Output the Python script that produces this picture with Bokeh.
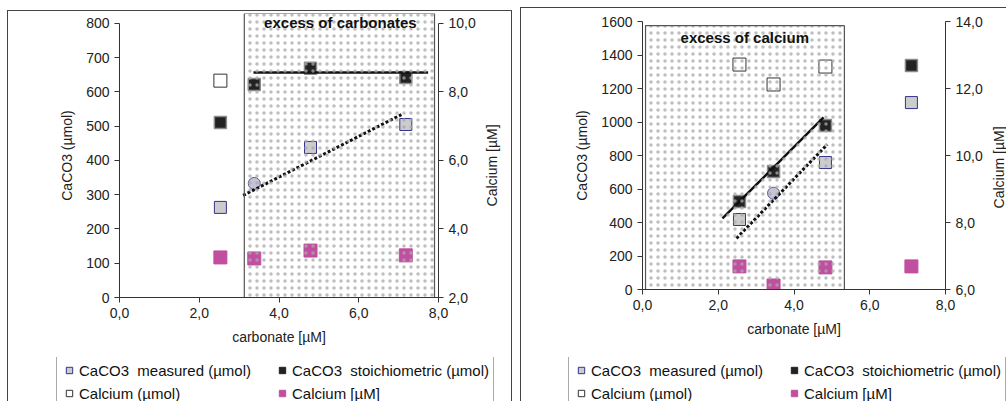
import math
from bokeh.plotting import figure
from bokeh.layouts import row, column
from bokeh.models import (Range1d, LinearAxis, FixedTicker, CustomJSTickFormatter,
                          Legend, LegendItem, Label, Spacer)
from bokeh.embed import file_html
from bokeh.resources import INLINE

FONT = "Liberation Sans"

# ---------------- data: left chart (excess of carbonates) ----------------
L_carb = [2.53, 3.38, 4.79, 7.18]
L_meas_x = [2.53, 4.79, 7.18]
L_meas = [263, 438, 505]
L_circ_x = [3.38]
L_circ = [333]
L_stoich = [511, 622, 669, 642]
L_ca_umol_x = [2.53]
L_ca_umol = [633]
L_ca_uM = [3.17, 3.14, 3.37, 3.23]
L_fit_solid_x = [3.36, 7.74]
L_fit_solid_y = [657, 657]
L_fit_dot_x = [3.1, 7.07]
L_fit_dot_y = [298, 534]
L_zone_x = [3.13, 7.9]
L_zone_label = "excess of carbonates"

# ---------------- data: right chart (excess of calcium) ----------------
R_carb = [2.56, 3.46, 4.83, 7.1]
R_meas_x = [2.56, 4.83, 7.1]
R_meas = [418, 758, 1116]
R_circ_x = [3.46]
R_circ = [575]
R_stoich = [525, 704, 979, 1337]
R_ca_umol_x = [2.56, 3.46, 4.83]
R_ca_umol = [1343, 1224, 1331]
R_ca_uM = [6.69, 6.12, 6.66, 6.69]
R_fit_solid_x = [2.11, 4.78]
R_fit_solid_y = [424, 1027]
R_fit_dot_x = [2.48, 4.88]
R_fit_dot_y = [305, 866]
R_zone_x = [0.08, 5.33]
R_zone_top = 1575
R_zone_label = "excess of calcium"

x_ticks = [0, 2, 4, 6, 8]
LEGEND_LABELS = ["CaCO3  measured (µmol)", "CaCO3  stoichiometric (µmol)",
                 "Calcium (µmol)", "Calcium [µM]"]
Y2_LABEL = "Calcium  [µM]"

MEAS_FILL = "#cccccc"; MEAS_LINE = "#33338a"
STOICH_FILL = "#222222"; STOICH_LINE = "#8a8a8a"
CAUMOL_FILL = "white"; CAUMOL_LINE = "#333333"
MAG = "#c04fa0"
AX = "#333333"

comma_fmt = CustomJSTickFormatter(code="return tick.toFixed(1).replace('.', ',');")


def style_axis(ax):
    ax.axis_line_color = AX
    ax.major_tick_line_color = AX
    ax.major_tick_out = 5
    ax.major_tick_in = 0
    ax.minor_tick_line_color = None
    ax.major_label_text_font = FONT
    ax.major_label_text_font_size = "14px"
    ax.major_label_text_color = "#222222"
    ax.axis_label_text_font = FONT
    ax.axis_label_text_font_size = "14px"
    ax.axis_label_text_font_style = "normal"
    ax.axis_label_text_color = "#222222"


def blank_fig(w, h):
    f = figure(frame_width=w, frame_height=h, min_border=0, x_range=Range1d(0, 1),
               y_range=Range1d(0, 1), output_backend="svg", toolbar_location=None,
               x_axis_type=None, y_axis_type=None)
    f.outline_line_color = None
    return f


def chart(fw, fh, bl, br, bt, bb, ymax, yticks, ybounds, y2range, y2ticks, y2bounds,
          carb, meas_x, meas, circ_x, circ, stoich, caum_x, caum, cauM,
          fsx, fsy, fdx, fdy, zone_x, zone_top, zone_label, label_xy, grid_ticks):
    p = figure(frame_width=fw, frame_height=fh, min_border_left=bl, min_border_right=br,
               min_border_top=bt, min_border_bottom=bb,
               x_range=Range1d(0, 8), y_range=Range1d(0, ymax),
               output_backend="svg", toolbar_location=None, x_axis_type=None, y_axis_type=None)
    p.outline_line_color = None
    p.extra_y_ranges = {"ca": Range1d(*y2range)}

    xa = LinearAxis(ticker=FixedTicker(ticks=x_ticks), formatter=comma_fmt,
                    axis_label="carbonate [µM]", axis_label_standoff=8)
    style_axis(xa)
    p.add_layout(xa, "below")
    ya = LinearAxis(ticker=FixedTicker(ticks=yticks), axis_label="CaCO3 (µmol)",
                    bounds=ybounds, axis_label_standoff=8)
    style_axis(ya)
    p.add_layout(ya, "left")
    y2 = LinearAxis(y_range_name="ca", ticker=FixedTicker(ticks=y2ticks), formatter=comma_fmt,
                    bounds=y2bounds)
    style_axis(y2)
    p.add_layout(y2, "right")

    p.xgrid.visible = False
    p.ygrid.ticker = FixedTicker(ticks=grid_ticks)
    p.ygrid.grid_line_color = "#3a3a3a"
    p.ygrid.grid_line_width = 1

    p.scatter(caum_x, caum, marker="square", size=13, fill_color=CAUMOL_FILL,
              line_color=CAUMOL_LINE, line_width=1)
    p.scatter(carb, stoich, marker="square", size=12, fill_color=STOICH_FILL,
              line_color=STOICH_LINE, line_width=1.5)
    p.scatter(meas_x, meas, marker="square", size=12, fill_color=MEAS_FILL,
              line_color=MEAS_LINE, line_width=1)
    p.scatter(circ_x, circ, marker="circle", size=12, fill_color="#c4c4d4",
              line_color="#5a5a9a", line_width=1)
    p.scatter(carb, cauM, marker="square", size=13, fill_color=MAG, line_color=MAG,
              y_range_name="ca")

    p.line(fsx, fsy, line_color="#111111", line_width=2.5)
    p.line(fdx, fdy, line_color="#111111", line_width=3, line_dash="3 2")

    # dotted zone drawn over the markers
    p.quad(left=zone_x[0], right=zone_x[1], bottom=0, top=zone_top,
           fill_alpha=0, hatch_pattern=".", hatch_color="#a8a8a8", hatch_scale=7,
           hatch_weight=0.6, hatch_alpha=0.75, line_color="#555555", line_width=1.2)

    p.add_layout(Label(x=label_xy[0], y=label_xy[1], text=zone_label, text_font=FONT,
                       text_font_size="15px", text_font_style="bold", text_color="#111111",
                       text_align="center", text_baseline="middle"))
    return p


def y2_title_fig(w, h, lx, ly):
    f = blank_fig(w, h)
    f.add_layout(Label(x=lx, y=ly, x_units="screen", y_units="screen", text=Y2_LABEL,
                       angle=math.pi / 2, text_font=FONT, text_font_size="14px",
                       text_color="#222222", text_align="center", text_baseline="middle"))
    return f


def legend_fig(w, h, vx, vy):
    f = blank_fig(w, h)
    # legend proxies: one point each, placed just outside the visible range
    px = [f.x_range.start - 1]
    py = [f.y_range.start - 1]
    r_meas = f.scatter(px, py, marker="square", fill_color=MEAS_FILL, line_color=MEAS_LINE)
    r_stoich = f.scatter(px, py, marker="square", fill_color=STOICH_FILL, line_color=STOICH_FILL)
    r_caum = f.scatter(px, py, marker="square", fill_color=CAUMOL_FILL, line_color=CAUMOL_LINE)
    r_mag = f.scatter(px, py, marker="square", fill_color=MAG, line_color=MAG)
    legend = Legend(items=[LegendItem(label=LEGEND_LABELS[0], renderers=[r_meas]),
                           LegendItem(label=LEGEND_LABELS[1], renderers=[r_stoich]),
                           LegendItem(label=LEGEND_LABELS[2], renderers=[r_caum]),
                           LegendItem(label=LEGEND_LABELS[3], renderers=[r_mag])],
                    ncols=2, location=(vx, vy), orientation="horizontal")
    legend.label_text_font = FONT
    legend.label_text_font_size = "15px"
    legend.label_text_color = "#111111"
    legend.glyph_width = 16
    legend.glyph_height = 18
    legend.label_height = 18
    legend.label_width = 190
    legend.label_standoff = 2
    legend.spacing = 5
    legend.padding = 4
    legend.margin = 0
    legend.border_line_color = "#555555"
    legend.border_line_width = 1
    f.add_layout(legend, "center")
    return f


BORDER = {"border": "1px solid #444444", "border-bottom": "none"}
BORDER_R = {"border": "1px solid #444444", "border-bottom": "none", "border-right": "none"}

# left chart block: x 7..510, y 10..401 ; frame x 118..437, y 12..296 ; legend from y 356
p1 = chart(319, 284, 111, 40, 2, 60, 829, list(range(0, 801, 100)), (0, 800),
           (2, 2 + 829 / 100), [2, 4, 6, 8, 10], (2, 10),
           L_carb, L_meas_x, L_meas, L_circ_x, L_circ, L_stoich, L_ca_umol_x, L_ca_umol, L_ca_uM,
           L_fit_solid_x, L_fit_solid_y, L_fit_dot_x, L_fit_dot_y, L_zone_x, 829,
           L_zone_label, (5.54, 803), list(range(100, 801, 100)))
t1 = y2_title_fig(33, 346, 13, 356 - 160)
g1 = legend_fig(503, 45, 48, 45 - 49 - 1)
block1 = column(row(p1, t1), g1, styles=BORDER)

# right chart block: border at x 520, content 521..1007, y 7..401 ; frame x 642..945, y 20..288
p2 = chart(303, 268, 121, 40, 13, 68, 1600, list(range(0, 1601, 200)), (0, 1600),
           (6, 14), [6, 8, 10, 12, 14], (6, 14),
           R_carb, R_meas_x, R_meas, R_circ_x, R_circ, R_stoich, R_ca_umol_x, R_ca_umol, R_ca_uM,
           R_fit_solid_x, R_fit_solid_y, R_fit_dot_x, R_fit_dot_y, R_zone_x, R_zone_top,
           R_zone_label, (2.7, 1504), list(range(200, 1401, 200)))
t2 = y2_title_fig(21, 349, 13, 357 - 152)
g2 = legend_fig(485, 45, 47, 45 - 49 - 1)
block2 = column(row(p2, t2), g2, styles=BORDER_R)

layout = row(Spacer(width=7), column(Spacer(height=10), block1), Spacer(width=8),
             column(Spacer(height=7), block2))
open("out.html", "w").write(file_html(layout, INLINE))
